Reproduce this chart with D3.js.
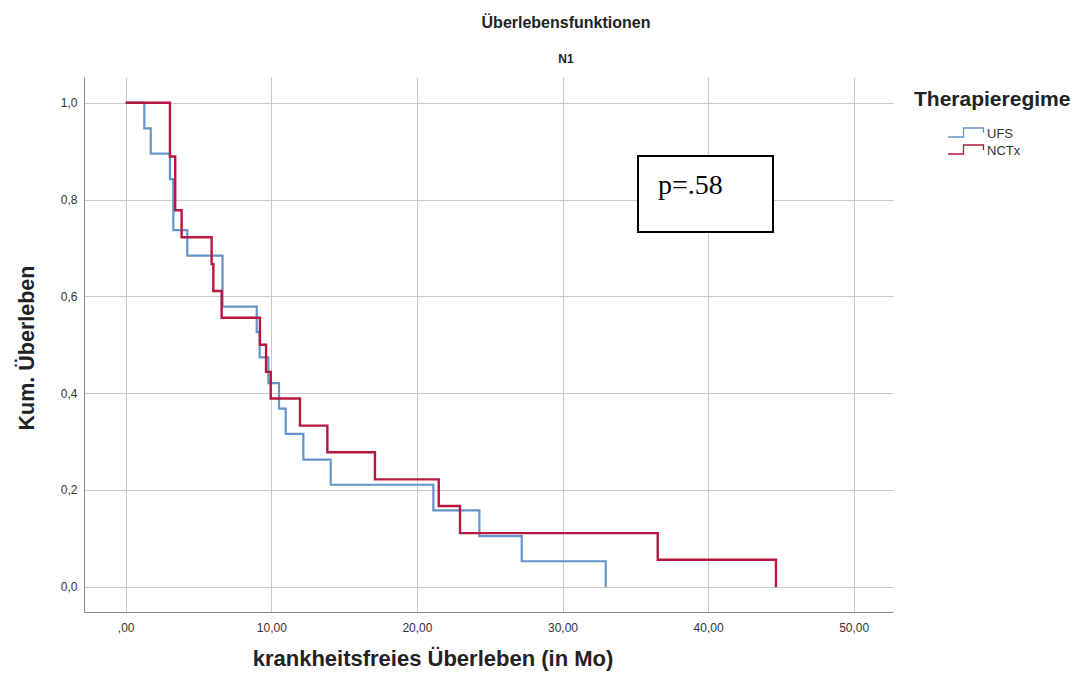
<!DOCTYPE html>
<html>
<head>
<meta charset="utf-8">
<script src="https://cdn.jsdelivr.net/npm/d3@7"></script>
<style>
  html, body { margin: 0; padding: 0; background: #fff; }
  svg { display: block; font-family: "Liberation Sans", Arial, sans-serif; }
</style>
</head>
<body>
<svg id="chart" width="1079" height="684"></svg>
<script>
// Kaplan-Meier step data: time (months) at which each survival level starts
const ufsTime = [0, 1.28, 1.72, 3.04, 3.27, 4.23, 6.65, 9.0, 9.2, 9.8, 10.53, 10.99, 12.2, 14.08, 21.13, 24.29, 27.2, 32.97];
const ufsSurv = [1, 0.947, 0.895, 0.842, 0.737, 0.684, 0.579, 0.526, 0.474, 0.421, 0.368, 0.316, 0.263, 0.211, 0.158, 0.105, 0.053, 0];

const nctxTime = [0, 3.04, 3.4, 3.84, 5.9, 6.02, 6.59, 9.22, 9.64, 9.96, 11.97, 13.85, 17.12, 21.5, 22.96, 36.54, 44.66];
const nctxSurv = [1, 0.889, 0.778, 0.722, 0.667, 0.611, 0.556, 0.5, 0.444, 0.389, 0.333, 0.278, 0.222, 0.167, 0.111, 0.056, 0];

const groupNames = ["UFS", "NCTx"];
const groupColors = ["#6495C8", "#B7163F"];

const xTicks = [0, 10, 20, 30, 40, 50];
const xTickLabels = [",00", "10,00", "20,00", "30,00", "40,00", "50,00"];
const yTicks = [0, 0.2, 0.4, 0.6, 0.8, 1.0];
const yTickLabels = ["0,0", "0,2", "0,4", "0,6", "0,8", "1,0"];

const titleText = "Überlebensfunktionen";
const subtitleText = "N1";
const xTitle = "krankheitsfreies Überleben (in Mo)";
const yTitle = "Kum. Überleben";
const legendTitle = "Therapieregime";
const pValueText = "p=.58";

const svg = d3.select("#chart");

// plot frame
const frame = { left: 84.5, right: 893.5, top: 77.5, bottom: 612.5 };

const x = d3.scaleLinear().domain([0, 50]).range([125.7, 853.7]);
const y = d3.scaleLinear().domain([0, 1]).range([586.9, 102.7]);

// gridlines
const grid = svg.append("g").attr("stroke", "#c9c9c9").attr("stroke-width", 1);
grid.selectAll("line.v").data(xTicks).join("line")
  .attr("x1", d => Math.round(x(d)) + 0.5).attr("x2", d => Math.round(x(d)) + 0.5)
  .attr("y1", frame.top).attr("y2", frame.bottom);
grid.selectAll("line.h").data(yTicks).join("line")
  .attr("y1", d => Math.round(y(d)) + 0.5).attr("y2", d => Math.round(y(d)) + 0.5)
  .attr("x1", frame.left).attr("x2", frame.right);

// axes (labels only, SPSS style)
const xAxis = d3.axisBottom(x).tickValues(xTicks)
  .tickFormat((d, i) => xTickLabels[i]).tickSize(0).tickPadding(0);
const gx = svg.append("g").attr("transform", `translate(0,${frame.bottom + 11})`).call(xAxis);
gx.select(".domain").remove();
gx.selectAll("text").attr("font-size", 12).attr("fill", "#333")
  .attr("font-family", "Liberation Sans, Arial, sans-serif").attr("dy", "0.71em");

const yAxis = d3.axisLeft(y).tickValues(yTicks)
  .tickFormat((d, i) => yTickLabels[i]).tickSize(0).tickPadding(0);
const gy = svg.append("g").attr("transform", `translate(${frame.left - 7},0)`).call(yAxis);
gy.select(".domain").remove();
gy.selectAll("text").attr("font-size", 12).attr("fill", "#333")
  .attr("font-family", "Liberation Sans, Arial, sans-serif");

// frame lines (left and bottom)
svg.append("path")
  .attr("d", `M${frame.left},${frame.top}V${frame.bottom}H${frame.right}`)
  .attr("fill", "none").attr("stroke", "#8a8a8a").attr("stroke-width", 1);

// survival curves
const stepLine = d3.line().x(d => x(d[0])).y(d => y(d[1])).curve(d3.curveStepAfter);
const series = [
  { name: groupNames[0], pts: d3.zip(ufsTime, ufsSurv), color: groupColors[0], w: 2.2 },
  { name: groupNames[1], pts: d3.zip(nctxTime, nctxSurv), color: groupColors[1], w: 2.4 }
];
svg.append("g").selectAll("path").data(series).join("path")
  .attr("d", d => stepLine(d.pts))
  .attr("fill", "none").attr("stroke", d => d.color).attr("stroke-width", d => d.w);

// titles
svg.append("text").attr("x", 566).attr("y", 28).attr("text-anchor", "middle")
  .attr("font-size", 16).attr("font-weight", "bold").attr("fill", "#222").text(titleText);
svg.append("text").attr("x", 566).attr("y", 63).attr("text-anchor", "middle")
  .attr("font-size", 12).attr("font-weight", "bold").attr("fill", "#222").text(subtitleText);

svg.append("text").attr("x", 433).attr("y", 666).attr("text-anchor", "middle")
  .attr("font-size", 22).attr("font-weight", "bold").attr("fill", "#222").text(xTitle);
svg.append("text").attr("transform", "translate(34,348) rotate(-90)").attr("text-anchor", "middle")
  .attr("font-size", 21.5).attr("font-weight", "bold").attr("fill", "#222").text(yTitle);

// legend
const lg = svg.append("g");
lg.append("text").attr("x", 914).attr("y", 106).attr("font-size", 21).attr("font-weight", "bold")
  .attr("fill", "#222").text(legendTitle);
series.forEach((s, i) => {
  const cy = 133 + i * 17;
  lg.append("path")
    .attr("d", `M948,${cy + 4}H963.5V${cy - 5}H983.5V${cy}`)
    .attr("fill", "none").attr("stroke", s.color).attr("stroke-width", 1.3);
  lg.append("text").attr("x", 987).attr("y", cy).attr("dy", "0.36em")
    .attr("font-size", 13).attr("fill", "#333").text(s.name);
});

// p-value box
const pb = svg.append("g");
pb.append("rect").attr("x", 638).attr("y", 156).attr("width", 135).attr("height", 76)
  .attr("fill", "#fff").attr("stroke", "#000").attr("stroke-width", 2);
pb.append("text").attr("x", 658).attr("y", 194).attr("font-size", 28)
  .attr("font-family", "Liberation Serif, Times New Roman, serif").attr("fill", "#000").text(pValueText);
</script>
</body>
</html>
